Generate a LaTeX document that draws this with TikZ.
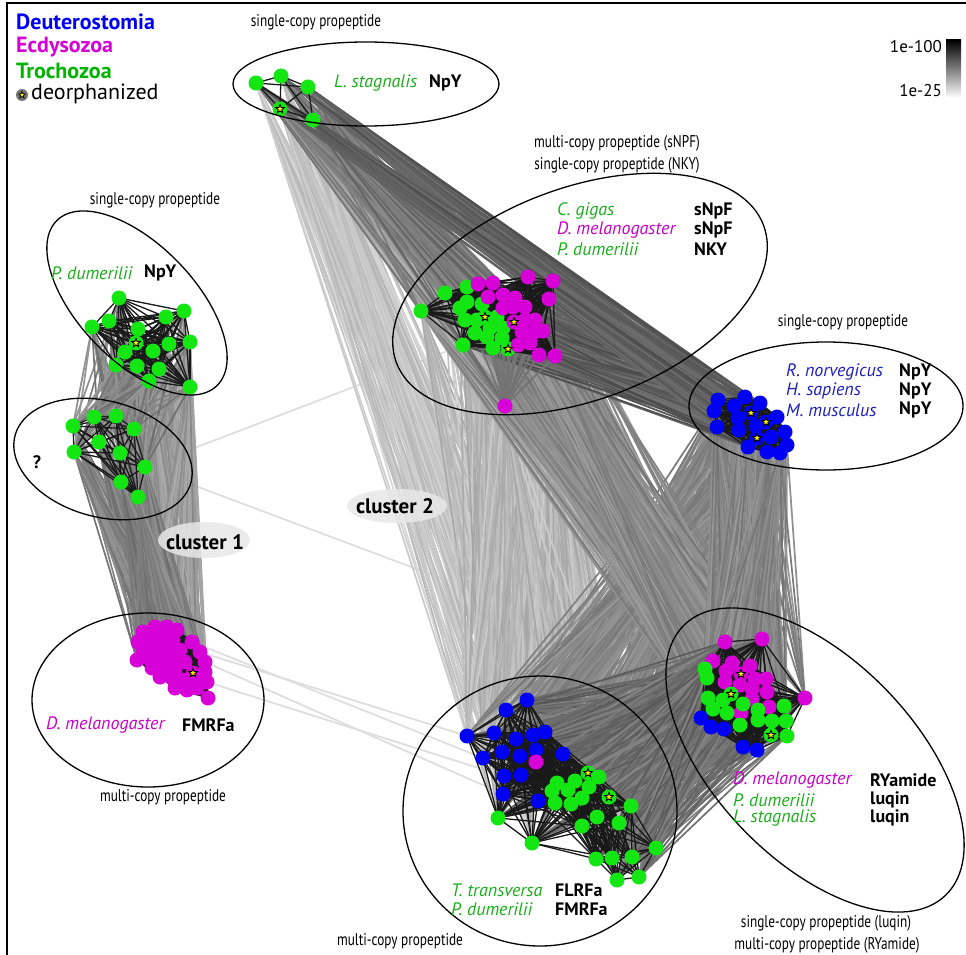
\documentclass[tikz,border=0pt]{standalone}
\usepackage{fontspec}
\setmainfont{PT Sans}
\newfontfamily\condfont[FakeStretch=0.78]{PT Sans}
\usetikzlibrary{shapes.geometric}
\pgfdeclarelayer{edges}
\pgfdeclarelayer{mesh}
\pgfsetlayers{edges,mesh,main}
\definecolor{gD}{RGB}{20,230,20}
\definecolor{mD}{RGB}{215,0,215}
\definecolor{bD}{RGB}{0,0,245}
\definecolor{gT}{RGB}{25,175,25}
\definecolor{mT}{RGB}{200,0,200}
\definecolor{bT}{RGB}{30,30,190}
\definecolor{gL}{RGB}{0,180,0}

\def\LA{256/83/gD,281/76/gD,308/87/gD,280/109/gD,313/120/gD}
\def\LB{119/298/gD,109/321/gD,92/327/gD,166/317/gD,184/311/gD,138/329/gD,136/343/gD,169/344/gD,190/342/gD,125/352/gD,153/351/gD,116/365/gD,137/366/gD,159/369/gD,149/381/gD,190/387/gD}
\def\LC{73/426/gD,94/417/gD,116/416/gD,134/429/gD,99/442/gD,74/452/gD,120/453/gD,145/467/gD,121/482/gD,138/497/gD}
\def\LD{143/632/mD,155/627/mD,167/627/mD,177/630/mD,138/642/mD,150/638/mD,162/638/mD,173/640/mD,192/642/mD,143/650/mD,155/650/mD,167/650/mD,180/650/mD,200/652/mD,137/660/mD,148/658/mD,160/658/mD,172/660/mD,185/662/mD,205/662/mD,152/668/mD,163/667/mD,175/670/mD,193/673/mD,205/672/mD,160/677/mD,172/678/mD,183/680/mD,195/681/mD,207/682/mD,175/688/mD,187/690/mD,197/688/mD,208/698/mD}
\def\LE{421/311/gD,445/293/gD,467/287/gD,467/302/gD,460/308/gD,482/304/gD,465/320/gD,477/320/gD,485/317/gD,497/317/gD,490/328/gD,503/328/gD,475/333/gD,487/337/gD,502/338/gD,463/345/gD,493/348/gD,508/349/gD,478/284/mD,493/283/mD,528/277/mD,553/281/mD,488/297/mD,503/295/mD,515/298/mD,549/299/mD,503/308/mD,513/307/mD,525/307/mD,514/322/mD,525/320/mD,535/320/mD,522/332/mD,533/333/mD,543/331/mD,518/345/mD,530/343/mD,539/355/mD,555/356/mD,505/406/mD}
\def\LF{718/400/bD,745/397/bD,760/403/bD,714/411/bD,734/406/bD,751/413/bD,777/417/bD,738/418/bD,766/422/bD,717/427/bD,739/430/bD,756/426/bD,785/432/bD,757/438/bD,771/437/bD,787/445/bD,748/447/bD,767/452/bD,780/453/bD}
\def\LG{527/700/bD,506/710/bD,467/736/bD,494/733/bD,516/739/bD,533/735/bD,545/732/bD,502/752/bD,520/756/bD,536/750/bD,563/754/bD,483/758/bD,504/776/bD,521/775/bD,503/794/bD,538/801/bD,536/762/mD,588/773/gD,599/777/gD,557/783/gD,575/781/gD,552/791/gD,568/790/gD,589/787/gD,582/798/gD,609/797/gD,555/803/gD,571/804/gD,631/806/gD,498/818/gD,597/817/gD,619/823/gD,582/826/gD,532/843/gD,656/848/gD,596/859/gD,612/858/gD,632/857/gD,617/880/gD,639/877/gD}
\def\LH{725/642/mD,762/639/mD,713/661/mD,732/663/mD,750/666/mD,726/671/mD,741/674/mD,755/679/mD,766/679/mD,725/682/mD,740/685/mD,752/689/mD,767/692/mD,752/699/mD,769/707/mD,741/713/mD,805/698/mD,705/669/gD,707/678/gD,731/694/gD,708/698/gD,723/700/gD,743/704/gD,713/709/gD,727/713/gD,758/710/gD,784/706/gD,758/720/gD,772/721/gD,786/721/gD,740/725/gD,771/735/gD,787/736/gD,701/718/bD,711/727/bD,724/729/bD,743/747/bD,757/750/bD}

\newcommand\mkdots[2]{\foreach \x/\y/\c [count=\k] in #2 {\node[dot, fill=\c] (#1\k) at (\x,\y) {};}}
\newcommand\mesh[4]{%
 \foreach \xa/\ya/\ca [count=\i] in #2 {%
  \foreach \xb/\yb/\cb [count=\j] in #2 {%
   \ifnum\i<\j\relax
    \ifnum\j>#4\relax\else
     \pgfmathtruncatemacro\ok{veclen(\xa-\xb,\ya-\yb)<#3}%
     \ifnum\ok=1\relax \draw[meshline] (#1\i.center) -- (#1\j.center);\fi
    \fi
   \fi}}}
\newcommand\bundle[7]{%
 \foreach \i in {1,...,#2}{%
  \foreach \j in {1,...,#4}{%
   \pgfmathtruncatemacro\ok{rnd<#5}%
   \ifnum\ok=1\relax
    \pgfmathtruncatemacro\shd{#6+rnd*(#7-#6)}%
    \draw[link, draw=black!\shd] (#1\i.center) -- (#3\j.center);%
   \fi}}}

\tikzset{
 dot/.style={circle, inner sep=0pt, minimum size=15pt, draw=none},
 deo/.style={star, star points=5, star point ratio=2.3, minimum size=9pt, inner sep=0pt, fill=yellow, draw=black, line width=0.9pt},
 link/.style={line width=1.7pt},
 faint/.style={draw=black!13, line width=1.8pt},
 meshline/.style={draw=black!90, line width=1.3pt},
 ell/.style={draw=black, line width=1.3pt},
 sp/.style={anchor=west, inner sep=0pt, font=\fontsize{18}{20}\selectfont\itshape},
 nm/.style={anchor=west, inner sep=0pt, font=\fontsize{18}{20}\selectfont\bfseries},
 lab/.style={inner sep=0pt, font=\condfont\fontsize{17}{19}\selectfont},
 leg/.style={anchor=west, inner sep=0pt, font=\fontsize{22}{24}\selectfont\bfseries},
 clab/.style={inner sep=0pt, font=\fontsize{21}{23}\selectfont\bfseries},
 cbg/.style={fill=gray!18, fill opacity=0.85, draw=none},
}

\begin{document}
\begin{tikzpicture}[x=1pt,y=-1pt]
\pgfmathsetseed{4321}
\useasboundingbox (0,0) rectangle (966,955);

% dots
\mkdots{A}{\LA}
\mkdots{B}{\LB}
\mkdots{C}{\LC}
\mkdots{D}{\LD}
\mkdots{E}{\LE}
\mkdots{F}{\LF}
\mkdots{G}{\LG}
\mkdots{H}{\LH}
\foreach \n [count=\k] in {A4,B7,D24,E9,E18,E30,F6,F9,F14,G18,G26,H7,H20,H32}
  \node[deo] (st\k) at (\n) {};

% inter-cluster links
\begin{pgfonlayer}{edges}
\draw[faint] (C8.center) -- (E16.center);
\draw[faint] (C8.center) -- (H19.center);
\draw[faint] (D14.center) -- (G3.center);
\draw[faint] (D9.center) -- (G12.center);
\draw[faint] (D20.center) -- (G15.center);
\draw[faint] (D30.center) -- (G13.center);
\bundle{A}{5}{G}{40}{0.8}{16}{30}
\bundle{E}{40}{G}{40}{0.45}{20}{36}
\bundle{A}{5}{H}{38}{0.7}{28}{42}
\bundle{B}{16}{D}{34}{0.5}{32}{48}
\bundle{C}{10}{D}{34}{0.6}{42}{58}
\bundle{B}{16}{C}{10}{0.7}{40}{58}
\bundle{F}{19}{G}{40}{0.35}{40}{55}
\bundle{E}{39}{H}{38}{0.35}{38}{55}
\bundle{F}{19}{H}{38}{0.5}{40}{56}
\bundle{G}{40}{H}{38}{0.35}{48}{66}
\bundle{A}{5}{E}{40}{0.9}{45}{62}
\bundle{E}{39}{F}{19}{0.45}{55}{72}
\bundle{A}{5}{F}{19}{1.0}{56}{70}
\foreach \j in {13,...,39} \draw[link, draw=black!55] (E40.center) -- (E\j.center);
\end{pgfonlayer}

% intra-cluster links
\begin{pgfonlayer}{mesh}
\mesh{A}{\LA}{1000}{5}
\mesh{B}{\LB}{1000}{16}
\mesh{C}{\LC}{1000}{10}
\mesh{D}{\LD}{1000}{34}
\mesh{E}{\LE}{80}{39}
\mesh{F}{\LF}{1000}{19}
\mesh{G}{\LG}{90}{40}
\mesh{H}{\LH}{75}{38}
\end{pgfonlayer}

% ellipses
\draw[ell] (366,84) ellipse (133pt and 42pt);
\draw[ell, rotate around={-46:(137,303)}] (137,303) ellipse (115pt and 58pt);
\draw[ell, rotate around={-15:(103,459)}] (103,459) ellipse (91pt and 58pt);
\draw[ell] (148,700) ellipse (116pt and 87pt);
\draw[ell, rotate around={20.5:(580,294)}] (580,294) ellipse (196pt and 106pt);
\draw[ell] (826,406) ellipse (137pt and 64pt);
\draw[ell] (540,811) ellipse (137pt and 135pt);
\draw[ell, rotate around={-46:(815,760)}] (815,760) ellipse (188pt and 100pt);

% species labels
\node[sp, text=gT] (ta1) at (334,83) {L. stagnalis};
\node[nm] (ta2) at (429,83) {NpY};
\node[sp, text=gT] (tb1) at (51,273) {P. dumerilii};
\node[nm] (tb2) at (144,273) {NpY};
\node[inner sep=0pt, font=\fontsize{18}{20}\selectfont\bfseries] (tc1) at (37,462) {?};
\node[sp, text=mT] (td1) at (46,725) {D. melanogaster};
\node[nm] (td2) at (182,725) {FMRFa};
\node[sp, text=gT] (te1) at (557,211) {C. gigas};
\node[sp, text=mT] (te2) at (557,230) {D. melanogaster};
\node[sp, text=gT] (te3) at (557,249) {P. dumerilii};
\node[nm] (te4) at (694,211) {sNpF};
\node[nm] (te5) at (694,230) {sNpF};
\node[nm] (te6) at (694,249) {NKY};
\node[sp, text=bT] (tf1) at (786,372) {R. norvegicus};
\node[sp, text=bT] (tf2) at (786,391) {H. sapiens};
\node[sp, text=bT] (tf3) at (786,410) {M. musculus};
\node[nm] (tf4) at (899,372) {NpY};
\node[nm] (tf5) at (899,391) {NpY};
\node[nm] (tf6) at (899,410) {NpY};
\node[sp, text=gT] (tg1) at (451,890) {T. transversa};
\node[sp, text=gT] (tg2) at (451,909) {P. dumerilii};
\node[nm] (tg3) at (555,890) {FLRFa};
\node[nm] (tg4) at (555,909) {FMRFa};
\node[sp, text=mT] (th1) at (733,780) {D. melanogaster};
\node[sp, text=gT] (th2) at (733,800) {P. dumerilii};
\node[sp, text=gT] (th3) at (733,818) {L. stagnalis};
\node[nm] (th4) at (870,780) {RYamide};
\node[nm] (th5) at (870,800) {luqin};
\node[nm] (th6) at (870,818) {luqin};

% small labels
\node[lab] (sl1) at (316,22) {single-copy propeptide};
\node[lab] (sl2) at (155,200) {single-copy propeptide};
\node[lab] (sl3) at (617,143) {multi-copy propeptide (sNPF)};
\node[lab] (sl4) at (617,165) {single-copy propeptide (NKY)};
\node[lab] (sl5) at (843,322) {single-copy propeptide};
\node[lab] (sl6) at (163,797) {multi-copy propeptide};
\node[lab] (sl7) at (400,941) {multi-copy propeptide};
\node[lab] (sl8) at (826,923) {single-copy propeptide (luqin)};
\node[lab] (sl9) at (827,945) {multi-copy propeptide (RYamide)};

% cluster labels
\fill[cbg] (204,540) ellipse (46pt and 18pt);
\node[clab] (cl1) at (205,542) {cluster 1};
\fill[cbg] (397,506) ellipse (50pt and 17pt);
\node[clab] (cl2) at (395,506) {cluster 2};

% legend
\node[leg, text=bD] (lg1) at (16,22) {Deuterostomia};
\node[leg, text=mD] (lg2) at (16,47) {Ecdysozoa};
\node[leg, text=gL] (lg3) at (16,71) {Trochozoa};
\node[circle, fill=black!55, minimum size=12pt, inner sep=0pt] (lg4) at (22,95) {};
\node[deo, minimum size=7pt, line width=0.7pt] (lg5) at (lg4) {};
\node[anchor=west, inner sep=0pt, font=\fontsize{22}{24}\selectfont] (lg6) at (31,94) {deorphanized};

% colour bar
\shade[top color=black, bottom color=white] (946,40) rectangle (961,98);
\node[anchor=east, inner sep=0pt, font=\fontsize{17}{19}\selectfont] (cb1) at (942,47) {1e-100};
\node[anchor=east, inner sep=0pt, font=\fontsize{17}{19}\selectfont] (cb2) at (942,91) {1e-25};

% frame
\draw[line width=1.3pt] (966,3) -- (7,3) -- (7,955);
\end{tikzpicture}
\end{document}
